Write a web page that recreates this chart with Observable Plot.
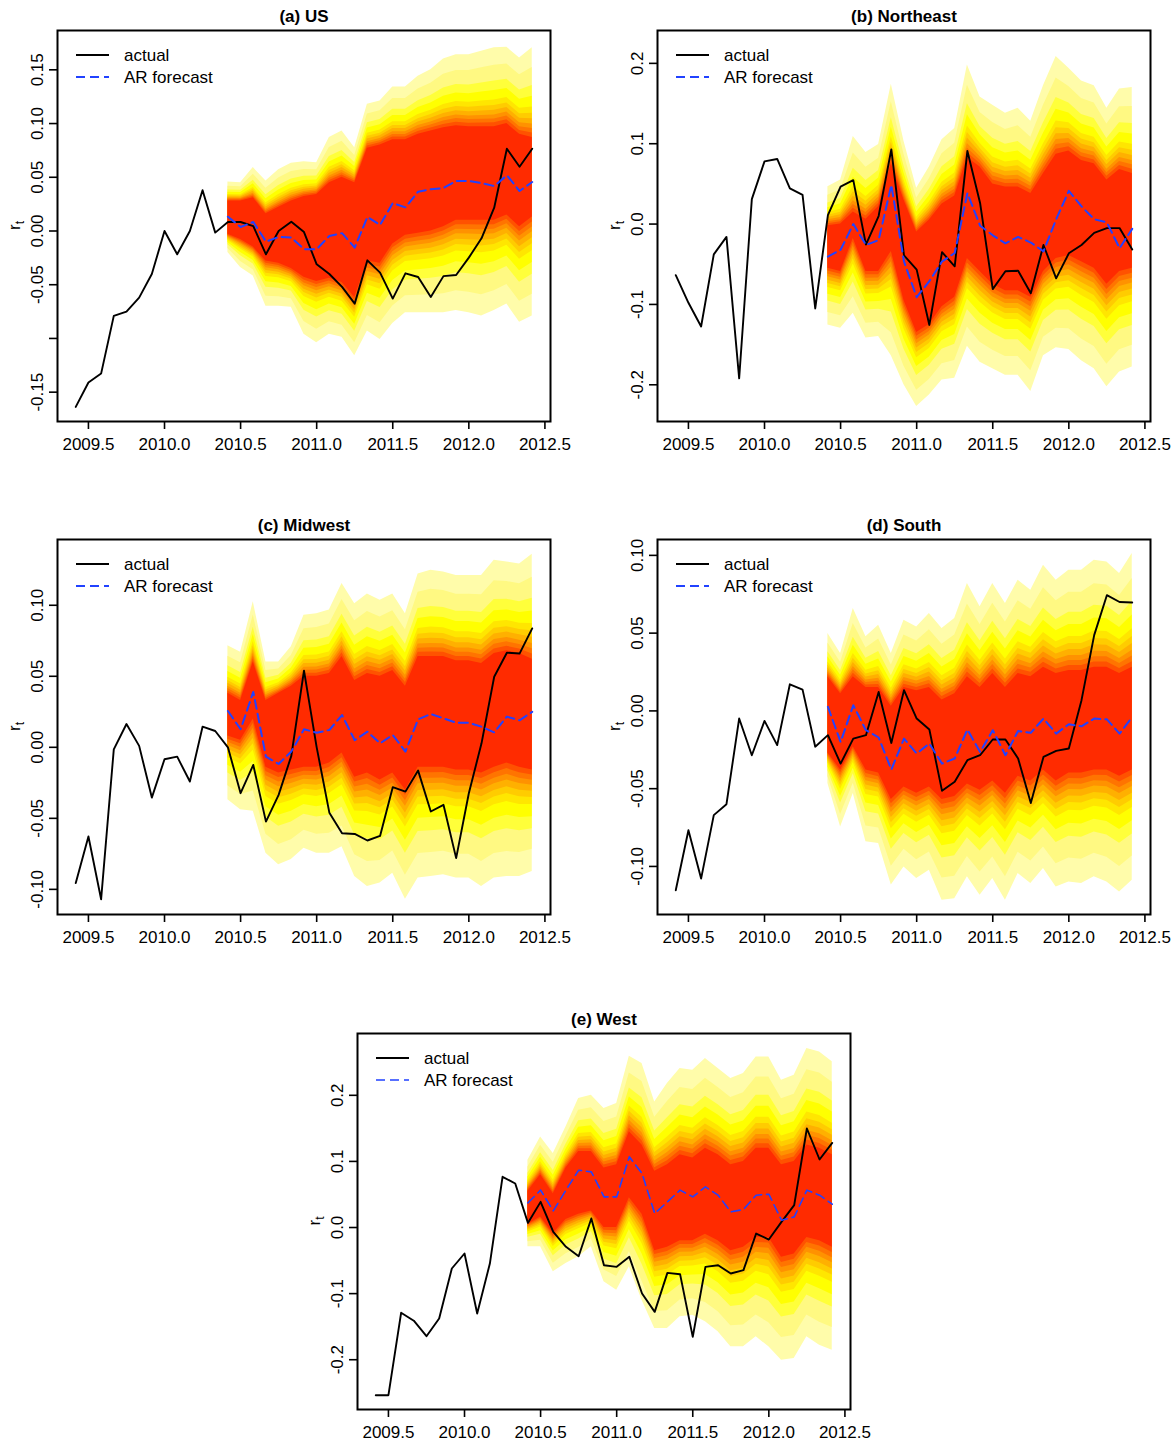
<!DOCTYPE html>
<html><head><meta charset="utf-8">
<script src="https://cdn.jsdelivr.net/npm/d3@7"></script>
<script src="https://cdn.jsdelivr.net/npm/@observablehq/plot@0.6"></script>
<style>
body{margin:0;background:#fff;}
#chart{position:relative;width:1176px;height:1445px;background:#fff;overflow:hidden;}
.panel{position:absolute;}
</style></head><body><div id="chart"></div>
<script>
// monthly time points (decimal years) 2009.42 .. 2012.42; forecasts from 2010.42
const months = d3.range(37).map(i => 2009 + 5/12 + i/12);
const fcMonths = months.slice(12);
const xTicks = [2009.5, 2010.0, 2010.5, 2011.0, 2011.5, 2012.0, 2012.5];

// ---- (a) US ----
const usActual = [-0.1637,-0.141,-0.1327,-0.079,-0.075,-0.062,-0.040,0.000,-0.0217,0.000,0.038,-0.0015,0.0084,0.0084,0.0046,-0.0217,0.000,0.0087,-0.001,-0.031,-0.040,-0.052,-0.0676,-0.0273,-0.0388,-0.0629,-0.0394,-0.0428,-0.0614,-0.042,-0.041,-0.0248,-0.0068,0.0217,0.0766,0.0598,0.0766];
const usForecast = [0.0133,0.0037,0.0084,-0.0099,-0.0056,-0.006,-0.017,-0.017,-0.0046,-0.002,-0.0155,0.013,0.0056,0.026,0.022,0.0366,0.0388,0.040,0.0465,0.0465,0.0446,0.0418,0.0518,0.0372,0.0456];
const usOuterHi = [0.0456,0.045,0.059,0.0465,0.057,0.063,0.0645,0.0635,0.087,0.093,0.0775,0.118,0.121,0.134,0.134,0.144,0.150,0.160,0.164,0.164,0.1674,0.1705,0.171,0.161,0.1705];
const usOuterLo = [-0.020,-0.034,-0.042,-0.070,-0.070,-0.071,-0.096,-0.104,-0.096,-0.099,-0.116,-0.093,-0.101,-0.086,-0.076,-0.076,-0.076,-0.076,-0.074,-0.076,-0.079,-0.074,-0.068,-0.085,-0.079];
const usRedHi = [0.028,0.028,0.031,0.016,0.022,0.028,0.032,0.034,0.045,0.050,0.045,0.077,0.080,0.085,0.085,0.090,0.093,0.096,0.098,0.097,0.097,0.097,0.100,0.090,0.087];
const usRedLo = [-0.003,-0.008,-0.015,-0.028,-0.030,-0.035,-0.043,-0.047,-0.044,-0.048,-0.062,-0.028,-0.030,-0.012,-0.004,-0.002,0.000,0.004,0.010,0.010,0.010,0.010,0.015,0.004,0.013];

// ---- (b) Northeast ----
const neActual = [-0.0636,-0.098,-0.1275,-0.0377,-0.016,-0.192,0.031,0.078,0.081,0.0445,0.0364,-0.105,0.011,0.0466,0.0547,-0.0255,0.010,0.093,-0.039,-0.0567,-0.1255,-0.035,-0.0526,0.091,0.0263,-0.081,-0.0587,-0.058,-0.086,-0.026,-0.0676,-0.0364,-0.026,-0.011,-0.005,-0.005,-0.0316];
const neForecast = [-0.0405,-0.032,0.0,-0.026,-0.020,0.0486,-0.0466,-0.091,-0.071,-0.0466,-0.036,0.0385,-0.002,-0.014,-0.024,-0.016,-0.023,-0.034,0.006,0.0413,0.022,0.006,0.002,-0.030,-0.006];
const neOuterHi = [0.0466,0.0547,0.109,0.089,0.099,0.174,0.103,0.0445,0.071,0.105,0.119,0.198,0.158,0.148,0.138,0.144,0.128,0.172,0.2085,0.194,0.178,0.172,0.144,0.168,0.170];
const neOuterLo = [-0.1255,-0.1296,-0.111,-0.1417,-0.140,-0.164,-0.200,-0.227,-0.2126,-0.194,-0.192,-0.152,-0.172,-0.180,-0.188,-0.188,-0.2085,-0.164,-0.154,-0.156,-0.170,-0.180,-0.2024,-0.184,-0.178];
const neRedHi = [-0.002,0.0,0.015,0.006,0.022,0.075,0.030,-0.01,0.005,0.025,0.035,0.083,0.071,0.050,0.046,0.046,0.038,0.063,0.087,0.091,0.079,0.075,0.055,0.068,0.063];
const neRedLo = [-0.055,-0.059,-0.018,-0.059,-0.059,-0.034,-0.095,-0.135,-0.125,-0.103,-0.091,-0.043,-0.059,-0.075,-0.083,-0.083,-0.091,-0.059,-0.043,-0.039,-0.047,-0.055,-0.075,-0.059,-0.055];

// ---- (c) Midwest ----
const mwActual = [-0.0956,-0.0628,-0.107,-0.0014,0.0164,0.001,-0.0354,-0.0084,-0.0066,-0.0241,0.0145,0.0115,0.0,-0.0323,-0.0124,-0.0523,-0.0335,-0.006,0.054,0.0,-0.046,-0.0605,-0.061,-0.0656,-0.0624,-0.0281,-0.0312,-0.0164,-0.0452,-0.0405,-0.078,-0.0323,0.0028,0.0497,0.0666,0.066,0.0837];
const mwForecast = [0.0256,0.0127,0.039,-0.0066,-0.0117,-0.003,0.0127,0.0103,0.0122,0.0227,0.005,0.011,0.0028,0.0087,-0.003,0.0197,0.0234,0.0204,0.0173,0.0173,0.0145,0.0105,0.0216,0.019,0.025];
const mwOuterHi = [0.0715,0.067,0.1024,0.060,0.060,0.0708,0.093,0.094,0.0966,0.1153,0.101,0.108,0.1036,0.108,0.094,0.122,0.1247,0.1235,0.121,0.121,0.121,0.1317,0.1305,0.129,0.136];
const mwOuterLo = [-0.037,-0.044,-0.045,-0.0745,-0.0827,-0.079,-0.071,-0.0745,-0.0745,-0.070,-0.091,-0.098,-0.0956,-0.0886,-0.107,-0.092,-0.091,-0.0898,-0.092,-0.092,-0.098,-0.092,-0.091,-0.091,-0.0874];
const mwRedHi = [0.038,0.033,0.060,0.033,0.038,0.043,0.050,0.050,0.052,0.064,0.047,0.052,0.050,0.054,0.043,0.064,0.064,0.064,0.061,0.061,0.059,0.066,0.068,0.066,0.062];
const mwRedLo = [0.008,0.005,0.020,-0.014,-0.018,-0.016,-0.014,-0.014,-0.011,-0.004,-0.021,-0.018,-0.023,-0.018,-0.030,-0.014,-0.014,-0.014,-0.016,-0.016,-0.018,-0.014,-0.011,-0.014,-0.016];

// ---- (d) South ----
const soActual = [-0.1153,-0.0767,-0.1078,-0.067,-0.060,-0.0049,-0.0285,-0.0064,-0.022,0.0171,0.0137,-0.023,-0.0156,-0.0339,-0.0178,-0.0156,0.0122,-0.0206,0.0133,-0.0049,-0.012,-0.0514,-0.0456,-0.0317,-0.0285,-0.0184,-0.0184,-0.0306,-0.0592,-0.0296,-0.0257,-0.0242,0.0069,0.0487,0.0744,0.070,0.0697];
const soForecast = [0.0026,-0.020,0.0036,-0.0124,-0.0171,-0.0377,-0.0178,-0.0274,-0.021,-0.0339,-0.0306,-0.012,-0.0264,-0.0124,-0.0285,-0.0129,-0.0141,-0.0049,-0.0146,-0.0086,-0.0099,-0.0049,-0.0054,-0.0146,-0.0039];
const soOuterHi = [0.0497,0.0369,0.0658,0.0476,0.055,0.0369,0.0583,0.054,0.0626,0.053,0.0594,0.0819,0.0669,0.0819,0.069,0.084,0.0776,0.0937,0.084,0.0904,0.0904,0.0969,0.0958,0.0883,0.1012];
const soOuterLo = [-0.0467,-0.0746,-0.0531,-0.0842,-0.0853,-0.112,-0.1003,-0.1078,-0.1024,-0.1217,-0.1207,-0.1067,-0.1185,-0.1078,-0.1217,-0.1046,-0.111,-0.1014,-0.1132,-0.110,-0.111,-0.1067,-0.110,-0.1164,-0.1089];
const soRedHi = [0.022,0.011,0.022,0.015,0.015,0.003,0.015,0.013,0.015,0.007,0.011,0.022,0.015,0.024,0.015,0.024,0.022,0.028,0.024,0.026,0.026,0.028,0.028,0.024,0.028];
const soRedLo = [-0.027,-0.038,-0.023,-0.038,-0.040,-0.057,-0.049,-0.053,-0.049,-0.057,-0.055,-0.047,-0.051,-0.045,-0.053,-0.042,-0.045,-0.038,-0.045,-0.040,-0.040,-0.038,-0.038,-0.042,-0.038];

// ---- (e) West ----
const weActual = [-0.2537,-0.2537,-0.129,-0.141,-0.1644,-0.1377,-0.062,-0.0393,-0.130,-0.0545,0.0767,0.0666,0.007,0.0388,-0.0066,-0.0292,-0.0434,0.0136,-0.057,-0.0595,-0.0444,-0.0998,-0.1276,-0.0686,-0.0706,-0.1654,-0.0595,-0.057,-0.0696,-0.0645,-0.0091,-0.0182,0.0086,0.0338,0.1498,0.1029,0.128];
const weForecast = [0.0373,0.0565,0.0252,0.0565,0.0867,0.0842,0.0464,0.0464,0.1069,0.0817,0.0212,0.0388,0.0565,0.0464,0.0615,0.0489,0.0237,0.0272,0.0489,0.0504,0.0111,0.0161,0.0565,0.0489,0.0353];
const weOuterHi = [0.1019,0.137,0.112,0.152,0.195,0.200,0.180,0.1876,0.259,0.248,0.190,0.2178,0.2405,0.238,0.2557,0.2405,0.2254,0.233,0.258,0.258,0.2229,0.2304,0.2708,0.2657,0.2506];
const weOuterLo = [-0.0292,-0.0292,-0.067,-0.0545,-0.0444,-0.0292,-0.0822,-0.0948,-0.0595,-0.110,-0.1528,-0.1528,-0.1351,-0.1326,-0.1427,-0.1578,-0.1805,-0.1805,-0.1654,-0.1805,-0.2007,-0.1982,-0.1654,-0.178,-0.1856];
const weRedHi = [0.055,0.080,0.051,0.090,0.115,0.115,0.090,0.095,0.145,0.125,0.085,0.095,0.110,0.105,0.120,0.110,0.095,0.100,0.120,0.120,0.095,0.100,0.125,0.120,0.110];
const weRedLo = [0.005,0.016,-0.009,0.012,0.020,0.025,0.000,0.000,0.045,0.020,-0.035,-0.030,-0.020,-0.020,-0.010,-0.020,-0.035,-0.030,-0.015,-0.015,-0.045,-0.040,-0.015,-0.020,-0.030];

// fan shading: position between solid-red edge (0) and outer edge (1), outermost first
const bandLevels = [1.00, 0.78, 0.58, 0.46, 0.34, 0.27, 0.21, 0.15, 0.10, 0.05];
const bandColors = ["#FFFCAA","#FFF982","#FFFF3A","#FFFF00","#FFE600","#FFCC00","#FFB000","#FF9200","#FF7400","#FF5200"];
const coreColor = "#FF2B00";

const panels = [
  {title:"(a) US", box:[57,550,30,421], yDomain:[-0.1773,0.1866],
   yTicks:[-0.15,-0.10,-0.05,0,0.05,0.10,0.15], yLabels:["-0.15","","-0.05","0.00","0.05","0.10","0.15"],
   actual:usActual, forecast:usForecast, outerHi:usOuterHi, outerLo:usOuterLo, redHi:usRedHi, redLo:usRedLo, fcW:2},
  {title:"(b) Northeast", box:[657,1150,30,421], yDomain:[-0.2457,0.2409],
   yTicks:[-0.2,-0.1,0,0.1,0.2], yLabels:["-0.2","-0.1","0.0","0.1","0.2"],
   actual:neActual, forecast:neForecast, outerHi:neOuterHi, outerLo:neOuterLo, redHi:neRedHi, redLo:neRedLo, fcW:2},
  {title:"(c) Midwest", box:[57,550,539,914], yDomain:[-0.1177,0.1463],
   yTicks:[-0.10,-0.05,0,0.05,0.10], yLabels:["-0.10","-0.05","0.00","0.05","0.10"],
   actual:mwActual, forecast:mwForecast, outerHi:mwOuterHi, outerLo:mwOuterLo, redHi:mwRedHi, redLo:mwRedLo, fcW:2},
  {title:"(d) South", box:[657,1150,539,914], yDomain:[-0.1309,0.1102],
   yTicks:[-0.10,-0.05,0,0.05,0.10], yLabels:["-0.10","-0.05","0.00","0.05","0.10"],
   actual:soActual, forecast:soForecast, outerHi:soOuterHi, outerLo:soOuterLo, redHi:soRedHi, redLo:soRedLo, fcW:2},
  {title:"(e) West", box:[357,850,1033,1409], yDomain:[-0.2753,0.2935],
   yTicks:[-0.2,-0.1,0,0.1,0.2], yLabels:["-0.2","-0.1","0.0","0.1","0.2"],
   actual:weActual, forecast:weForecast, outerHi:weOuterHi, outerLo:weOuterLo, redHi:weRedHi, redLo:weRedLo, fcW:1.6}
];

const FONT = "'Liberation Sans', Arial, Helvetica, sans-serif";
const blue = "#2142FF";
const chart = document.getElementById("chart");

for (const p of panels) {
  const mL = 57, mT = 30, mR = 26, mB = 45;
  const W = p.box[1] - p.box[0] + mL + mR;
  const H = p.box[3] - p.box[2] + mT + mB;
  const actualRows = months.map((t, i) => ({t, v: p.actual[i]}));
  const fcRows = fcMonths.map((t, i) => ({t, v: p.forecast[i]}));
  const fanMarks = bandLevels.map((f, k) => Plot.areaY(
    fcMonths.map((t, i) => ({
      t,
      lo: p.redLo[i] - f * (p.redLo[i] - p.outerLo[i]),
      hi: p.redHi[i] + f * (p.outerHi[i] - p.redHi[i])
    })),
    {x: "t", y1: "lo", y2: "hi", fill: bandColors[k]}));
  const core = Plot.areaY(fcMonths.map((t, i) => ({t, lo: p.redLo[i], hi: p.redHi[i]})),
    {x: "t", y1: "lo", y2: "hi", fill: coreColor});

  const plot = Plot.plot({
    width: W, height: H,
    marginLeft: mL, marginTop: mT, marginRight: mR, marginBottom: mB,
    style: {fontFamily: FONT, fontSize: "17px", overflow: "visible", background: "transparent", color: "black"},
    x: {domain: [2009.2967, 2012.5367]},
    y: {domain: p.yDomain},
    marks: [
      ...fanMarks,
      core,
      Plot.line(actualRows, {x: "t", y: "v", stroke: "black", strokeWidth: 1.9, strokeLinejoin: "round"}),
      Plot.line(fcRows, {x: "t", y: "v", stroke: blue, strokeWidth: p.fcW, strokeDasharray: "9,5"}),
      Plot.frame({stroke: "black", strokeWidth: 2}),
      Plot.axisX({ticks: xTicks, tickSize: 8, tickPadding: 8, tickFormat: d => d.toFixed(1), fontSize: 17, label: null, strokeWidth: 1.6}),
      Plot.axisY({ticks: p.yTicks, tickSize: 8, tickFormat: () => "", label: null, strokeWidth: 1.6}),
      Plot.text(p.yTicks, {y: d => d, text: (d, i) => p.yLabels[i], frameAnchor: "left", dx: -20, rotate: -90,
        textAnchor: "middle", lineAnchor: "middle", fontSize: 17}),
      Plot.text([p.title], {text: d => d, frameAnchor: "top", dy: -14, lineAnchor: "middle", textAnchor: "middle",
        fontSize: 17, fontWeight: "bold"})
    ]
  });

  const svg = d3.select(plot);
  // y-axis title r_t
  const yt = svg.append("text")
    .attr("transform", `translate(${mL - 37},${mT + (p.box[3] - p.box[2]) / 2}) rotate(-90)`)
    .attr("text-anchor", "middle").attr("font-family", FONT).attr("font-size", 17).attr("fill", "black");
  yt.append("tspan").text("r");
  yt.append("tspan").attr("font-size", 12).attr("dy", 4).text("t");
  // legend
  const lg = svg.append("g").attr("font-family", FONT).attr("font-size", 17).attr("fill", "black")
    .attr("text-anchor", "start");
  lg.append("line").attr("x1", mL + 19).attr("x2", mL + 52).attr("y1", mT + 25).attr("y2", mT + 25)
    .attr("stroke", "black").attr("stroke-width", 2);
  lg.append("text").attr("x", mL + 67).attr("y", mT + 25).attr("dy", "0.35em").attr("text-anchor", "start").text("actual");
  lg.append("line").attr("x1", mL + 19).attr("x2", mL + 52).attr("y1", mT + 47).attr("y2", mT + 47)
    .attr("stroke", blue).attr("stroke-width", p.fcW).attr("stroke-dasharray", "9,5");
  lg.append("text").attr("x", mL + 67).attr("y", mT + 47).attr("dy", "0.35em").attr("text-anchor", "start").text("AR forecast");

  const div = document.createElement("div");
  div.className = "panel";
  div.style.left = (p.box[0] - mL) + "px";
  div.style.top = (p.box[2] - mT) + "px";
  div.appendChild(plot);
  chart.appendChild(div);
}
</script>
</body></html>
